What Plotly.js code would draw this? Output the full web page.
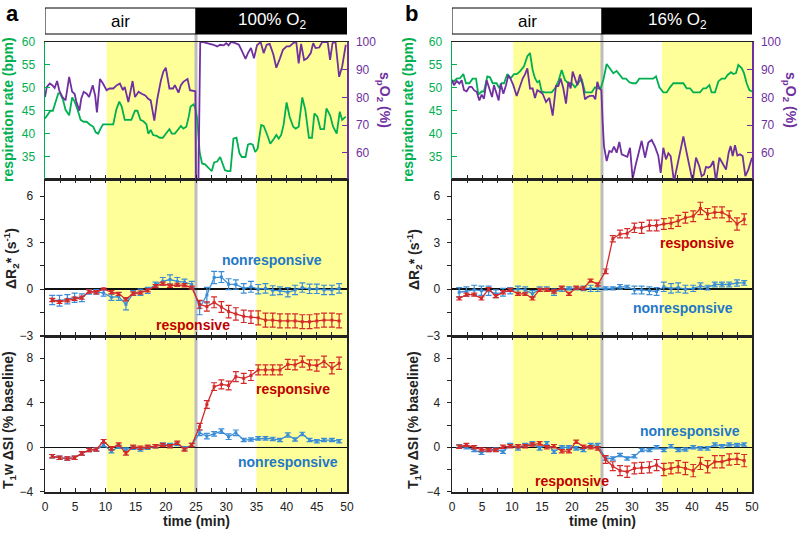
<!DOCTYPE html>
<html>
<head>
<meta charset="utf-8">
<script src="https://cdn.plot.ly/plotly-3.0.1.min.js"></script>
<style>
  body { margin: 0; background: #fff; }
  #chart { width: 800px; height: 533px; }
</style>
</head>
<body>
<div id="chart"></div>
<script>
// physiology traces, panel a (100% O2)
var respA_t = [0,0.5,0.9,1.3,1.8,2.2,2.5,3.0,3.4,4.0,4.5,4.9,5.4,5.9,6.4,6.9,7.4,8.0,8.4,8.8,9.2,9.6,11.3,11.8,12.3,12.7,13.2,13.8,14.3,14.9,15.3,15.8,16.3,16.8,17.1,17.5,17.9,18.5,19.0,19.5,20.0,20.6,21.0,21.5,22.1,22.5,22.9,23.4,23.8,24.1,24.6,24.9,25.2,25.6,26.0,26.5,27.1,27.6,28.0,28.5,29.0,29.5,29.8,30.3,30.7,31.2,31.7,32.2,32.6,33.2,33.6,34.0,34.4,34.8,35.2,35.8,36.2,36.8,37.3,37.9,38.3,38.7,39.1,39.5,40.0,40.5,41.1,41.5,42.0,42.6,43.1,43.7,44.2,44.6,45.1,45.6,46.2,46.6,47.2,47.7,48.3,48.8,49.2,49.8];
var respA = [43.3,44.4,45,45,47,48.8,48.8,47.3,45.2,44,47.9,47,45.2,43,42.6,42.6,42,41.5,40.3,40,41.1,42,42,45.2,47,45.9,43,43,43,45,45,43,42.7,42,40,40.8,39.7,39.5,39.1,39.1,40,41,40,40,41,41.7,41.1,41.5,43.7,45.9,46.4,45.5,43.3,36,33.5,33.3,32.5,31.8,33.7,33.9,34.9,33.3,32,31.8,31.8,38.9,39.1,35.7,34.9,34.9,37.6,37.8,37.6,36,36.7,41.9,41.7,39.7,37.8,38.9,39.7,38.9,39.7,41.9,46.8,43.7,41.5,41.1,41.5,47.9,45.2,39.1,39.1,44.4,43.7,41,41,45.5,44,41.5,40,44.8,43,43.7];
var spo2A_t = [0,0.3,0.8,1.2,1.6,2.0,2.4,2.9,3.4,4.0,4.5,4.9,5.2,5.7,6.0,6.4,6.9,7.3,7.9,8.3,8.6,9.1,9.6,10.2,10.7,11.3,11.9,12.4,12.9,13.2,13.8,14.2,14.5,14.9,15.5,16.0,16.6,17.1,17.5,18.1,18.6,19.2,19.6,20.0,20.6,21.2,21.5,22.1,22.5,22.9,23.6,24.0,24.6,24.9,25.0,25.4,25.7,26.1,26.8,27.4,27.9,28.5,29.0,29.6,30.0,30.4,30.8,31.5,32.1,32.6,33.2,33.6,34.1,34.6,35.1,35.7,36.2,36.7,37.2,37.8,38.3,38.9,39.4,40.0,40.5,41.1,41.6,42.0,42.4,42.9,43.4,44.0,44.4,44.8,45.4,45.9,46.5,46.8,47.2,47.6,48.1,48.7,49.2,49.8];
var spo2A = [80.1,83.8,85,84.4,83.4,85.9,82.2,80.1,78.9,87.4,82,81.3,78.3,75.2,79.5,82,81.3,80.1,84.4,80.7,74.6,86.6,85,82.6,83.2,83.2,84.4,85,82.6,83.8,78.3,82,85.9,80.1,82,81.3,80.7,79.5,78.9,71.6,79.5,86.2,89.3,90.7,83.2,83.2,84.4,81.7,84.4,85.6,86.6,82.6,82.2,82.2,49,49,100,100,99.6,99.3,99,98.4,99,98.8,99.6,98.8,100,99.6,99,96.8,93.9,96,97.8,94.1,98.8,100,96,99,99.3,95.6,90.7,94.1,97.2,98.4,98.4,99.6,100,92.3,99.3,93.5,94.1,96,99.6,97.8,98,100,100,100,93.5,99.6,100,87.4,91.1,99];

// physiology traces, panel b (16% O2)
var respB_t = [0,0.33,0.78,1.33,1.89,2.33,2.89,3.44,4.0,4.39,4.94,5.33,5.89,6.33,6.78,7.44,7.89,8.28,8.67,9.22,9.78,10.33,10.78,11.33,12.0,12.56,13.0,13.44,13.83,14.22,14.56,14.94,15.5,16.06,16.61,17.17,17.72,18.28,18.83,19.39,19.94,20.5,21.06,21.61,22.17,22.72,23.28,23.83,24.28,24.78,25.22,25.78,26.33,26.89,27.44,27.89,28.44,29.0,29.56,30.11,30.67,31.22,31.78,32.33,32.89,33.56,34.0,34.56,35.22,35.78,36.33,36.89,37.44,38.0,38.56,39.11,39.67,40.22,40.78,41.33,41.89,42.33,42.89,43.28,43.83,44.39,44.94,45.5,45.94,46.5,46.89,47.33,47.72,48.28,48.67,49.11,49.56,50.0];
var respB = [51.7,51.4,52,52.1,53,51,51,52,52,48.5,49.2,49.2,52.5,52.3,51,51,49.9,51,51,53,52.1,53,53,53.6,54.7,56.9,57.6,53.9,52.1,51.2,51.5,49.2,49,49,49,49.9,51.4,53.9,51.7,51,51,50.1,51,52,49,49,49,50.1,49.9,49.9,51.7,55.2,54.2,53.2,53.7,52.8,52,52,51.2,51,51,52,52,52,52,52,52.5,50.1,49,49,50.1,51,51,51,51,49.9,49.9,49,49,49,49.9,49.9,50.6,49,49,51.4,52,52,52.8,53.4,53,53.2,55,54.3,53.2,51,49.5,49.2];
var spo2B_t = [0,0.33,0.78,1.22,1.61,2.0,2.44,2.89,3.28,3.67,4.11,4.56,4.94,5.33,5.78,6.22,6.67,7.0,7.33,7.78,8.11,8.56,9.0,9.39,9.78,10.22,10.78,11.33,11.78,12.17,12.56,13.0,13.44,13.83,14.22,14.67,15.11,15.67,16.22,16.78,17.33,17.72,18.11,18.56,19.0,19.39,19.78,20.11,20.5,20.89,21.33,21.78,22.17,22.56,23.0,23.56,23.89,24.22,24.56,24.89,25.11,25.33,25.78,26.22,26.61,27.0,27.44,27.89,28.28,28.83,29.22,29.67,30.11,30.56,31.06,31.61,32.17,32.72,33.28,33.83,34.39,34.78,35.22,35.67,36.06,36.44,37.0,37.44,38.0,38.56,39.11,39.56,40.11,40.67,41.22,41.61,42.0,42.33,42.72,43.11,43.56,44.0,44.56,45.11,45.67,46.11,46.44,46.78,47.17,47.56,48.0,48.44,48.89,49.39,50.0];
var spo2B = [86.2,84.4,85.9,85,86.2,82.6,82.2,83.8,83.8,82.6,82,78.9,81,79.5,86.2,83.2,80.1,84.4,82,78.9,85,81.3,84.4,88,86.6,84.4,80.5,84.4,86.8,88.3,90.5,83.2,83.2,79.8,82.6,82,81.3,78.3,79.8,73.4,84.1,84.1,86.8,83.2,77.7,85.6,83.2,89.3,86.8,84.4,88.3,84.4,79.3,80.1,80.5,80.5,79.3,85.6,83.2,82.6,71,62.4,57,60.6,60.2,62.2,60,63.9,59.4,58.8,58.5,61.8,50.5,55.1,60,64.3,58.2,63.7,64.6,62.2,58.8,52.7,61.8,57.6,59.8,58.8,49.6,53.9,60,65.9,60,55.1,49.6,58.2,55.1,51.5,52.1,54.9,54.6,55.1,57,49.6,58.2,56.1,53.9,60,62.4,58.8,62.7,59,59.4,58.8,51.5,53.9,58.2];

// MRI time points (min)
var tScan = [1.2,2.4,3.7,4.9,6.1,7.3,8.5,9.7,11.0,12.2,13.4,14.6,15.8,17.0,18.3,19.5,20.7,21.9,23.1,24.3,25.6,26.8,28.0,29.2,30.4,31.6,32.9,34.1,35.3,36.5,37.7,38.9,40.2,41.4,42.6,43.8,45.0,46.2,47.5,48.7];

// delta R2* (s^-1)
var r2NonA    = [-0.7,-0.75,-0.65,-0.55,-0.55,-0.18,-0.18,-0.25,-0.52,-0.48,-0.98,-0.25,-0.2,-0.08,0.3,0.5,0.62,0.5,0.45,0.3,-1.2,-0.38,0.75,0.78,0.32,0.3,0.05,0.15,0,0.05,-0.08,-0.1,-0.2,-0.05,0.1,0.02,0.02,-0.05,-0.05,0.05];
var r2NonAErr = [0.3,0.35,0.3,0.3,0.25,0.15,0.15,0.2,0.2,0.25,0.35,0.15,0.2,0.2,0.15,0.25,0.3,0.25,0.2,0.2,0.45,0.5,0.4,0.35,0.35,0.3,0.3,0.35,0.3,0.3,0.3,0.25,0.3,0.3,0.3,0.3,0.3,0.3,0.3,0.3];
var r2ResA    = [-0.7,-0.82,-0.72,-0.62,-0.55,-0.15,-0.2,0.02,-0.2,-0.3,-0.65,-0.28,-0.22,-0.08,0.2,0.35,0.22,0.28,0.25,0.1,-0.98,-1.12,-0.85,-1.15,-1.45,-1.6,-1.75,-1.8,-1.85,-2.0,-2.0,-2.05,-2.05,-2.05,-2.1,-2.1,-2.05,-2.0,-2.0,-2.05];
var r2ResAErr = [0.1,0.1,0.1,0.1,0.1,0.1,0.1,0.05,0.1,0.1,0.1,0.1,0.1,0.1,0.1,0.1,0.1,0.1,0.1,0.1,0.25,0.3,0.35,0.35,0.4,0.4,0.4,0.4,0.45,0.45,0.45,0.45,0.45,0.45,0.45,0.45,0.45,0.45,0.45,0.45];
var r2NonB    = [-0.2,-0.15,-0.05,-0.1,-0.1,-0.3,-0.2,-0.1,0,-0.05,-0.3,0,0,-0.2,0,0.05,0.05,0.05,0.05,0.05,0.05,0.05,0.15,0.15,-0.05,-0.05,-0.1,-0.15,0.15,0.05,0.1,0,0.05,0.2,0.1,0.3,0.3,0.3,0.4,0.4];
var r2NonBErr = [0.3,0.3,0.3,0.3,0.3,0.25,0.25,0.2,0.2,0.2,0.2,0.15,0.15,0.2,0.15,0.1,0.1,0.15,0.2,0.2,0.1,0.1,0.15,0.1,0.25,0.25,0.25,0.25,0.3,0.3,0.3,0.25,0.2,0.2,0.15,0.15,0.15,0.15,0.2,0.15];
var r2ResB    = [-0.6,-0.35,-0.35,-0.6,0,-0.45,-0.2,-0.05,-0.3,-0.3,-0.6,-0.05,-0.05,-0.15,0.1,-0.3,0.1,0.05,0.55,0.3,1.15,3.25,3.55,3.6,3.95,3.95,4.1,4.1,4.2,4.25,4.4,4.6,4.7,5.2,4.85,4.95,4.95,4.7,4.2,4.5];
var r2ResBErr = [0.1,0.1,0.1,0.1,0.1,0.1,0.1,0.1,0.1,0.1,0.1,0.1,0.1,0.1,0.1,0.1,0.1,0.1,0.1,0.1,0.15,0.2,0.25,0.3,0.3,0.35,0.35,0.35,0.35,0.35,0.35,0.35,0.35,0.4,0.35,0.35,0.35,0.35,0.4,0.35];

// T1w delta SI (% baseline)
var t1NonA    = [-0.8,-0.95,-1.0,-0.95,-0.55,-0.25,-0.2,0.2,-0.35,0.05,-0.2,-0.05,-0.2,-0.05,0.1,0.25,0.2,0.3,-0.1,0.2,1.3,1.0,1.2,1.45,0.95,1.3,0.65,0.7,0.8,0.8,0.75,0.65,1.1,0.7,1.2,0.65,0.55,0.65,0.65,0.55];
var t1NonAErr = [0.15,0.15,0.15,0.15,0.15,0.15,0.15,0.15,0.15,0.15,0.15,0.15,0.15,0.15,0.15,0.15,0.15,0.15,0.15,0.15,0.25,0.25,0.2,0.2,0.25,0.25,0.15,0.15,0.15,0.15,0.15,0.15,0.2,0.15,0.15,0.15,0.15,0.15,0.15,0.15];
var t1ResA    = [-0.8,-0.95,-1.0,-0.95,-0.55,-0.25,-0.2,0.55,-0.1,0.25,-0.55,0.05,-0.05,0.05,0.1,0.2,0.1,0.4,-0.2,0.2,1.85,3.85,5.45,5.65,5.55,6.35,6.2,6.45,6.95,6.95,6.95,6.95,7.45,7.4,7.7,7.4,7.35,7.7,7.1,7.55];
var t1ResAErr = [0.15,0.15,0.15,0.15,0.15,0.15,0.15,0.15,0.15,0.15,0.15,0.15,0.15,0.15,0.15,0.15,0.15,0.15,0.15,0.15,0.3,0.35,0.35,0.4,0.4,0.45,0.45,0.45,0.45,0.45,0.45,0.45,0.45,0.45,0.5,0.45,0.5,0.5,0.5,0.55];
var t1NonB    = [0.1,0,-0.25,-0.5,-0.25,-0.2,-0.4,0.2,-0.1,0.2,0.35,-0.1,0.35,-0.4,0,0,-0.1,-0.25,0.2,0.2,-1.0,-1.0,-0.7,-1.0,-0.8,-0.25,-0.25,0,-0.25,0.1,-0.25,-0.2,0,-0.1,-0.1,0.25,0.1,0.25,0.2,0.25];
var t1NonBErr = [0.15,0.15,0.15,0.15,0.15,0.15,0.15,0.15,0.15,0.15,0.15,0.15,0.15,0.15,0.15,0.15,0.15,0.15,0.15,0.15,0.15,0.15,0.15,0.15,0.15,0.15,0.15,0.15,0.15,0.15,0.15,0.15,0.15,0.15,0.15,0.15,0.15,0.15,0.15,0.15];
var t1ResB    = [0.05,0.2,0,-0.2,-0.25,-0.25,0.05,0.1,0.1,0.1,0.25,0.35,0,0.1,-0.35,-0.35,0.5,0.05,0,-0.1,-1.1,-1.7,-2.1,-2.2,-1.9,-1.85,-1.8,-1.6,-2.0,-1.9,-1.75,-1.9,-2.1,-1.45,-1.75,-1.3,-1.3,-1.1,-1.05,-1.2];
var t1ResBErr = [0.15,0.15,0.15,0.15,0.15,0.15,0.15,0.15,0.15,0.15,0.15,0.15,0.15,0.15,0.15,0.15,0.15,0.15,0.15,0.15,0.35,0.4,0.45,0.5,0.5,0.5,0.5,0.5,0.55,0.5,0.55,0.55,0.55,0.55,0.55,0.55,0.55,0.5,0.5,0.55];

// protocol
var phaseStart = [0, 25];
var phaseEnd = [25, 50];
var gasA = ["air", "100% O<sub>2</sub>"];
var gasB = ["air", "16% O<sub>2</sub>"];
var windowStart = [10.2, 35];
var windowEnd = [25, 50];
var switchTime = 25;

var GREEN = "#00B050", PURPLE = "#7030A0", RED = "#D42A2A", BLUE = "#3A8DD6";
var REDTXT = "#C00000", BLUETXT = "#1F78C8";
var FONT = "Arial, 'Liberation Sans', sans-serif";

function errTrace(x, y, err, color, xa, ya) {
    return {
        type: "scatter", mode: "lines+markers", x: x, y: y, xaxis: xa, yaxis: ya,
        line: {color: color, width: 1.3},
        marker: {color: color, size: 3, symbol: "square"},
        error_y: {type: "data", array: err, color: color, thickness: 1.2, width: 3},
        hoverinfo: "skip"
    };
}
function physTrace(x, y, color, xa, ya) {
    return {type: "scatter", mode: "lines", x: x, y: y, xaxis: xa, yaxis: ya,
            line: {color: color, width: 1.8}, hoverinfo: "skip"};
}

var data = [
    physTrace(respA_t, respA, GREEN, "x3", "y3"),
    physTrace(spo2A_t, spo2A, PURPLE, "x3", "y7"),
    errTrace(tScan, r2NonA, r2NonAErr, BLUE, "x2", "y2"),
    errTrace(tScan, r2ResA, r2ResAErr, RED, "x2", "y2"),
    errTrace(tScan, t1NonA, t1NonAErr, BLUE, "x", "y"),
    errTrace(tScan, t1ResA, t1ResAErr, RED, "x", "y"),
    physTrace(respB_t, respB, GREEN, "x6", "y6"),
    physTrace(spo2B_t, spo2B, PURPLE, "x6", "y8"),
    errTrace(tScan, r2NonB, r2NonBErr, BLUE, "x5", "y5"),
    errTrace(tScan, r2ResB, r2ResBErr, RED, "x5", "y5"),
    errTrace(tScan, t1NonB, t1NonBErr, BLUE, "x4", "y4"),
    errTrace(tScan, t1ResB, t1ResBErr, RED, "x4", "y4")
];

// pixel layout -> paper fractions
function px(v) { return v / 800; }
function py(v) { return 1 - v / 533; }
var domA = [px(45), px(347)], domB = [px(452), px(752)];
var yTop = [py(179), py(42)], yMid = [py(336), py(179)], yBot = [py(492), py(336)];

function xAxis(dom, anchor, labels, mirror) {
    return {
        domain: dom, anchor: anchor, range: [0, 50], showgrid: false, zeroline: false,
        showline: true, linecolor: "#222", linewidth: 1.5, mirror: mirror,
        ticks: "inside", ticklen: 4, tickcolor: "#222", dtick: 5, tick0: 0,
        minor: {dtick: 2.5, ticks: "inside", ticklen: 4, tickcolor: "#222"},
        showticklabels: labels, ticklabelstandoff: 3,
        tickfont: {size: 12, color: "#222"}
    };
}
function yAxis(dom, anchor, range, dt) {
    return {
        domain: dom, anchor: anchor, range: range, dtick: dt, tick0: 0,
        showgrid: false, zeroline: true, zerolinecolor: "#111", zerolinewidth: 1.5,
        showline: true, linecolor: "#222", linewidth: 1.5, mirror: true,
        ticks: "outside", ticklen: 4, tickcolor: "#222",
        minor: {dtick: dt / 2, ticks: "outside", ticklen: 4, tickcolor: "#222"},
        ticklabelstandoff: 4, tickfont: {size: 12, color: "#222"}
    };
}
function respAxis(dom, anchor) {
    return {
        domain: dom, anchor: anchor, range: [30.1, 60], dtick: 5, tick0: 0,
        showgrid: false, zeroline: false, showline: true, linecolor: GREEN, linewidth: 1.5,
        ticks: "inside", ticklen: 5, tickcolor: GREEN, ticklabelstandoff: 6,
        tickfont: {size: 12, color: GREEN}
    };
}
function spo2Axis(over, anchor) {
    return {
        overlaying: over, anchor: anchor, side: "right", range: [50.5, 100], dtick: 10, tick0: 0,
        showgrid: false, zeroline: false, showline: true, linecolor: PURPLE, linewidth: 1.5,
        ticks: "inside", ticklen: 5, tickcolor: PURPLE, ticklabelstandoff: 5,
        tickfont: {size: 12, color: PURPLE}
    };
}

var shapes = [];
var annotations = [];
function note(o) {
    o.showarrow = false;
    o.xanchor = "center";
    o.yanchor = "middle";
    annotations.push(o);
}

[["x", domA, gasA], ["x4", domB, gasB]].forEach(function (p) {
    var xr = p[0];
    for (var i = 0; i < windowStart.length; i++) {
        shapes.push({type: "rect", xref: xr, yref: "paper", x0: windowStart[i], x1: windowEnd[i],
                     y0: yBot[0], y1: yTop[1], fillcolor: "#FFFF99", line: {width: 0}, layer: "below"});
    }
    shapes.push({type: "line", xref: xr, yref: "paper", x0: switchTime, x1: switchTime,
                 y0: yBot[0], y1: py(34), line: {color: "#BDBDBD", width: 3}, layer: "below"});
    for (var j = 0; j < phaseStart.length; j++) {
        shapes.push({type: "rect", xref: xr, yref: "paper", x0: phaseStart[j], x1: phaseEnd[j],
                     y0: py(34), y1: py(8), fillcolor: j === 0 ? "#fff" : "#000",
                     line: {color: "#000", width: 1}, layer: "below"});
        note({xref: xr, yref: "paper", x: (phaseStart[j] + phaseEnd[j]) / 2, y: py(21),
              text: p[2][j], font: {size: 17, color: j === 0 ? "#000" : "#fff"}});
    }
    note({xref: "paper", yref: "paper", x: (p[1][0] + p[1][1]) / 2, y: py(521),
          text: "<b>time (min)</b>", font: {size: 14, color: "#222"}});
});

function lab(text, x, y, color, angle) {
    note({xref: "paper", yref: "paper", x: px(x), y: py(y), text: "<b>" + text + "</b>",
          textangle: angle, font: {size: 14, color: color}});
}
lab("respiration rate (bpm)", 8, 110, GREEN, -90);
lab("ΔR<sub>2</sub>* (s<sup>-1</sup>)", 11, 259, "#222", -90);
lab("T<sub>1</sub>w ΔSI (% baseline)", 9, 420, "#222", -90);
lab("s<sub>p</sub>O<sub>2</sub> (%)", 384, 100, PURPLE, 90);
lab("respiration rate (bpm)", 408, 110, GREEN, -90);
lab("ΔR<sub>2</sub>* (s<sup>-1</sup>)", 414, 259, "#222", -90);
lab("T<sub>1</sub>w ΔSI (% baseline)", 414, 420, "#222", -90);
lab("s<sub>p</sub>O<sub>2</sub> (%)", 790, 100, PURPLE, 90);

note({xref: "paper", yref: "paper", x: px(12), y: py(14), text: "<b>a</b>", font: {size: 22, color: "#000"}});
note({xref: "paper", yref: "paper", x: px(411), y: py(14), text: "<b>b</b>", font: {size: 22, color: "#000"}});

// series labels
function seriesLab(text, xa, ya, x, y, color) {
    note({xref: xa, yref: ya, x: x, y: y, text: "<b>" + text + "</b>", font: {size: 14, color: color}});
}
seriesLab("nonresponsive", "x2", "y2", 37.6, 1.9, BLUETXT);
seriesLab("responsive", "x2", "y2", 24.5, -2.3, REDTXT);
seriesLab("responsive", "x", "y", 41.1, 5.2, REDTXT);
seriesLab("nonresponsive", "x", "y", 40.2, -1.35, BLUETXT);
seriesLab("responsive", "x5", "y5", 40.8, 3.0, REDTXT);
seriesLab("nonresponsive", "x5", "y5", 38.5, -1.2, BLUETXT);
seriesLab("nonresponsive", "x4", "y4", 39.7, 1.5, BLUETXT);
seriesLab("responsive", "x4", "y4", 20, -3.0, REDTXT);

var layout = {
    width: 800, height: 533,
    margin: {l: 0, r: 0, t: 0, b: 0},
    paper_bgcolor: "#fff", plot_bgcolor: "rgba(0,0,0,0)",
    showlegend: false,
    font: {family: FONT, size: 12, color: "#222"},
    xaxis: xAxis(domA, "y", true, "ticks"),
    xaxis2: xAxis(domA, "y2", false, "ticks"),
    xaxis3: xAxis(domA, "y3", false, true),
    xaxis4: xAxis(domB, "y4", true, "ticks"),
    xaxis5: xAxis(domB, "y5", false, "ticks"),
    xaxis6: xAxis(domB, "y6", false, true),
    yaxis: yAxis(yBot, "x", [-4.02, 10], 4),
    yaxis2: yAxis(yMid, "x2", [-3.02, 7.1], 3),
    yaxis3: respAxis(yTop, "x3"),
    yaxis4: yAxis(yBot, "x4", [-4.02, 10], 4),
    yaxis5: yAxis(yMid, "x5", [-3.02, 7.1], 3),
    yaxis6: respAxis(yTop, "x6"),
    yaxis7: spo2Axis("y3", "x3"),
    yaxis8: spo2Axis("y6", "x6"),
    shapes: shapes,
    annotations: annotations
};

Plotly.newPlot("chart", data, layout, {displayModeBar: false, staticPlot: true});
</script>
</body>
</html>
